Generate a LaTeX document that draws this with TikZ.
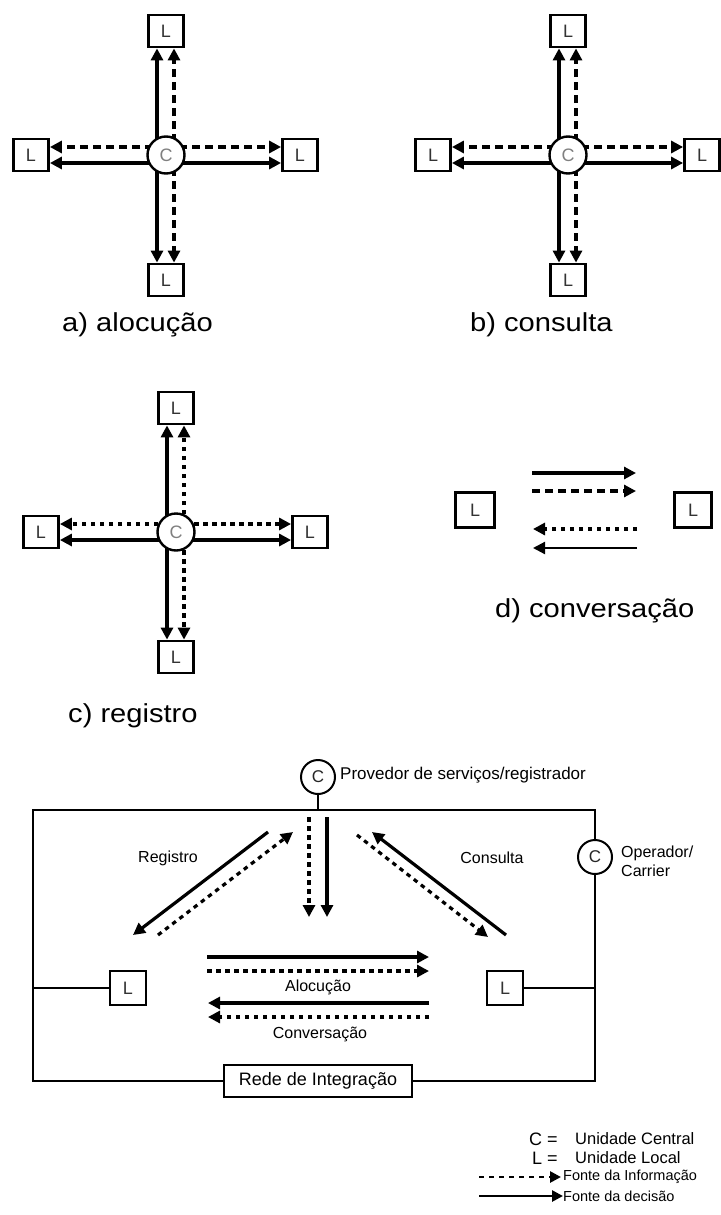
\documentclass[tikz,border=0pt]{standalone}
\usepackage{fontspec}
\setmainfont{Liberation Sans}
\newfontfamily\capfont[FakeStretch=1.12]{Liberation Sans}
\usetikzlibrary{arrows.meta,calc}
\pgfdeclarelayer{bg}
\pgfsetlayers{bg,main}

% one central unit C with four local units L around it
\newcommand\hub[4]{%
  \node[cnode] (#1c) at (#2,#3) {C};
  \node[lbox] (#1n) at (#2,#3-124) {L};
  \node[lbox] (#1s) at (#2,#3+125) {L};
  \node[lbox] (#1w) at (#2-135,#3) {L};
  \node[lbox] (#1e) at (#2+134,#3) {L};
  \begin{pgfonlayer}{bg}
    \draw[sol] ($(#1c)+(-9,0)$) -- ($(#1n.south)+(-9,0)$);
    \draw[#4]  ($(#1c)+(8,0)$)  -- ($(#1n.south)+(8,0)$);
    \draw[sol] ($(#1c)+(-9,0)$) -- ($(#1s.north)+(-9,0)$);
    \draw[#4]  ($(#1c)+(8,0)$)  -- ($(#1s.north)+(8,0)$);
    \draw[#4]  ($(#1c)+(0,-8)$) -- ($(#1w.east)+(0,-8)$);
    \draw[sol] ($(#1c)+(0,8)$)  -- ($(#1w.east)+(0,8)$);
    \draw[#4]  ($(#1c)+(0,-8)$) -- ($(#1e.west)+(0,-8)$);
    \draw[sol] ($(#1c)+(0,8)$)  -- ($(#1e.west)+(0,8)$);
  \end{pgfonlayer}
}

\begin{document}
\begin{tikzpicture}[x=1pt,y=-1pt,
  tip/.style={-{Triangle[length=12pt,width=12pt]}},
  lbox/.style={draw,line width=2.8pt,minimum width=35pt,minimum height=32pt,inner sep=0pt,
    fill=white,text=black!80,font=\fontsize{18}{18}\selectfont},
  cnode/.style={draw,circle,line width=2.4pt,minimum size=37pt,inner sep=0pt,fill=white,
    text=black!50,font=\fontsize{18}{18}\selectfont},
  sol/.style={line width=3.2pt,tip},
  dsh/.style={line width=3.2pt,dash pattern=on 8pt off 5pt,tip},
  dot/.style={line width=3.2pt,dash pattern=on 4.5pt off 4.5pt,tip},
  caption/.style={anchor=west,inner sep=0pt,font=\capfont\fontsize{26}{26}\selectfont},
  lab/.style={inner sep=0pt,font=\fontsize{16}{16}\selectfont},
  net/.style={line width=2.6pt},
]
\useasboundingbox (0,0) rectangle (720,1215);

% ---------- a) alocucao ----------
\hub{a}{166}{155}{dsh}
\node[caption] (capa) at (62,325) {a) alocução};

% ---------- b) consulta ----------
\hub{b}{568}{155}{dsh}
\node[caption] (capb) at (470,325) {b) consulta};

% ---------- c) registro ----------
\hub{c}{176}{532}{dot}
\node[caption] (capc) at (68,716) {c) registro};

% ---------- d) conversacao ----------
\node[lbox,minimum width=39pt,minimum height=35pt] (dl) at (475,510) {L};
\node[lbox,minimum width=37pt,minimum height=35pt] (dr) at (693,510) {L};
\coordinate (d1a) at (532,473); \coordinate (d1b) at (636,473);
\coordinate (d2a) at (532,491); \coordinate (d2b) at (636,491);
\coordinate (d3a) at (637,529); \coordinate (d3b) at (533,529);
\coordinate (d4a) at (637,548); \coordinate (d4b) at (533,548);
\draw[sol] (d1a) -- (d1b);
\draw[dsh] (d2a) -- (d2b);
\draw[dot] (d3a) -- (d3b);
\draw[sol,line width=2.2pt] (d4a) -- (d4b);
\node[caption] (capd) at (495,611) {d) conversação};

% ---------- integration network ----------
\draw[net] (33,810) rectangle (595,1081);

\node[cnode,minimum size=34pt,line width=2pt,text=black!85,font=\fontsize{17}{17}\selectfont] (pc) at (318,777) {C};
\node[lab,anchor=west,font=\fontsize{17}{17}\selectfont] (pct) at (340,775) {Provedor de serviços/registrador};
\coordinate (ptop) at (318,810);
\draw[net] (pc) -- (ptop);

\node[cnode,minimum size=34pt,line width=2pt,text=black!85,font=\fontsize{17}{17}\selectfont] (oc) at (595,857) {C};
\node[lab,anchor=west,align=left] (oct) at (621,861) {Operador/\\[3pt]Carrier};

\node[lbox,minimum width=36pt,minimum height=34pt] (ll) at (128,988) {L};
\node[lbox,minimum width=36pt,minimum height=34pt] (rl) at (505,988) {L};
\coordinate (lwall) at (33,988);
\coordinate (rwall) at (595,988);
\draw[line width=2.2pt] (lwall) -- (ll.west);
\draw[line width=2.2pt] (rl.east) -- (rwall);

\node[draw,line width=2.2pt,fill=white,minimum width=188pt,minimum height=32pt,inner sep=0pt,
  font=\fontsize{18}{18}\selectfont] (rede) at (318,1081) {Rede de Integração};

% registration: local unit -> provider
\coordinate (r1a) at (268,832); \coordinate (r1b) at (133,935);
\coordinate (r2a) at (158,935); \coordinate (r2b) at (293,832);
\draw[sol] (r1a) -- (r1b);
\draw[dot] (r2a) -- (r2b);
\node[lab] (regt) at (168,858) {Registro};

% query
\coordinate (q1a) at (506,935); \coordinate (q1b) at (372,832);
\coordinate (q2a) at (357,835); \coordinate (q2b) at (488,937);
\draw[sol] (q1a) -- (q1b);
\draw[dot] (q2a) -- (q2b);
\node[lab] (cont) at (492,858) {Consulta};

% allocation from the provider
\coordinate (v1a) at (309,817); \coordinate (v1b) at (309,917);
\coordinate (v2a) at (327,817); \coordinate (v2b) at (327,917);
\draw[dot] (v1a) -- (v1b);
\draw[sol] (v2a) -- (v2b);

% horizontal exchanges between the local units
\coordinate (h1a) at (207,957);  \coordinate (h1b) at (429,957);
\coordinate (h2a) at (207,971);  \coordinate (h2b) at (429,971);
\coordinate (h3a) at (429,1003); \coordinate (h3b) at (208,1003);
\coordinate (h4a) at (429,1017); \coordinate (h4b) at (208,1017);
\draw[sol] (h1a) -- (h1b);
\draw[dot] (h2a) -- (h2b);
\draw[sol] (h3a) -- (h3b);
\draw[dot] (h4a) -- (h4b);
\node[lab] (alot) at (318,987) {Alocução};
\node[lab] (cvt) at (320,1034) {Conversação};

% ---------- legend ----------
\node[lab,anchor=west,font=\fontsize{18}{18}\selectfont] (lgc) at (529,1139) {C =};
\node[lab,anchor=west,font=\fontsize{16.5}{16.5}\selectfont] (lgct) at (575,1139) {Unidade Central};
\node[lab,anchor=west,font=\fontsize{18}{18}\selectfont] (lgl) at (532,1158) {L =};
\node[lab,anchor=west,font=\fontsize{16.5}{16.5}\selectfont] (lglt) at (575,1158) {Unidade Local};
\coordinate (lg1a) at (479,1177); \coordinate (lg1b) at (561,1177);
\coordinate (lg2a) at (479,1196); \coordinate (lg2b) at (563,1196);
\draw[line width=2.6pt,dash pattern=on 5pt off 5pt,-{Triangle[length=11pt,width=11pt]}] (lg1a) -- (lg1b);
\draw[line width=2.6pt,-{Triangle[length=11pt,width=11pt]}] (lg2a) -- (lg2b);
\node[lab,anchor=west,font=\fontsize{14.5}{14.5}\selectfont] (lgi) at (563,1177) {Fonte da Informação};
\node[lab,anchor=west,font=\fontsize{14.5}{14.5}\selectfont] (lgd) at (563,1196) {Fonte da decisão};
\end{tikzpicture}
\end{document}
